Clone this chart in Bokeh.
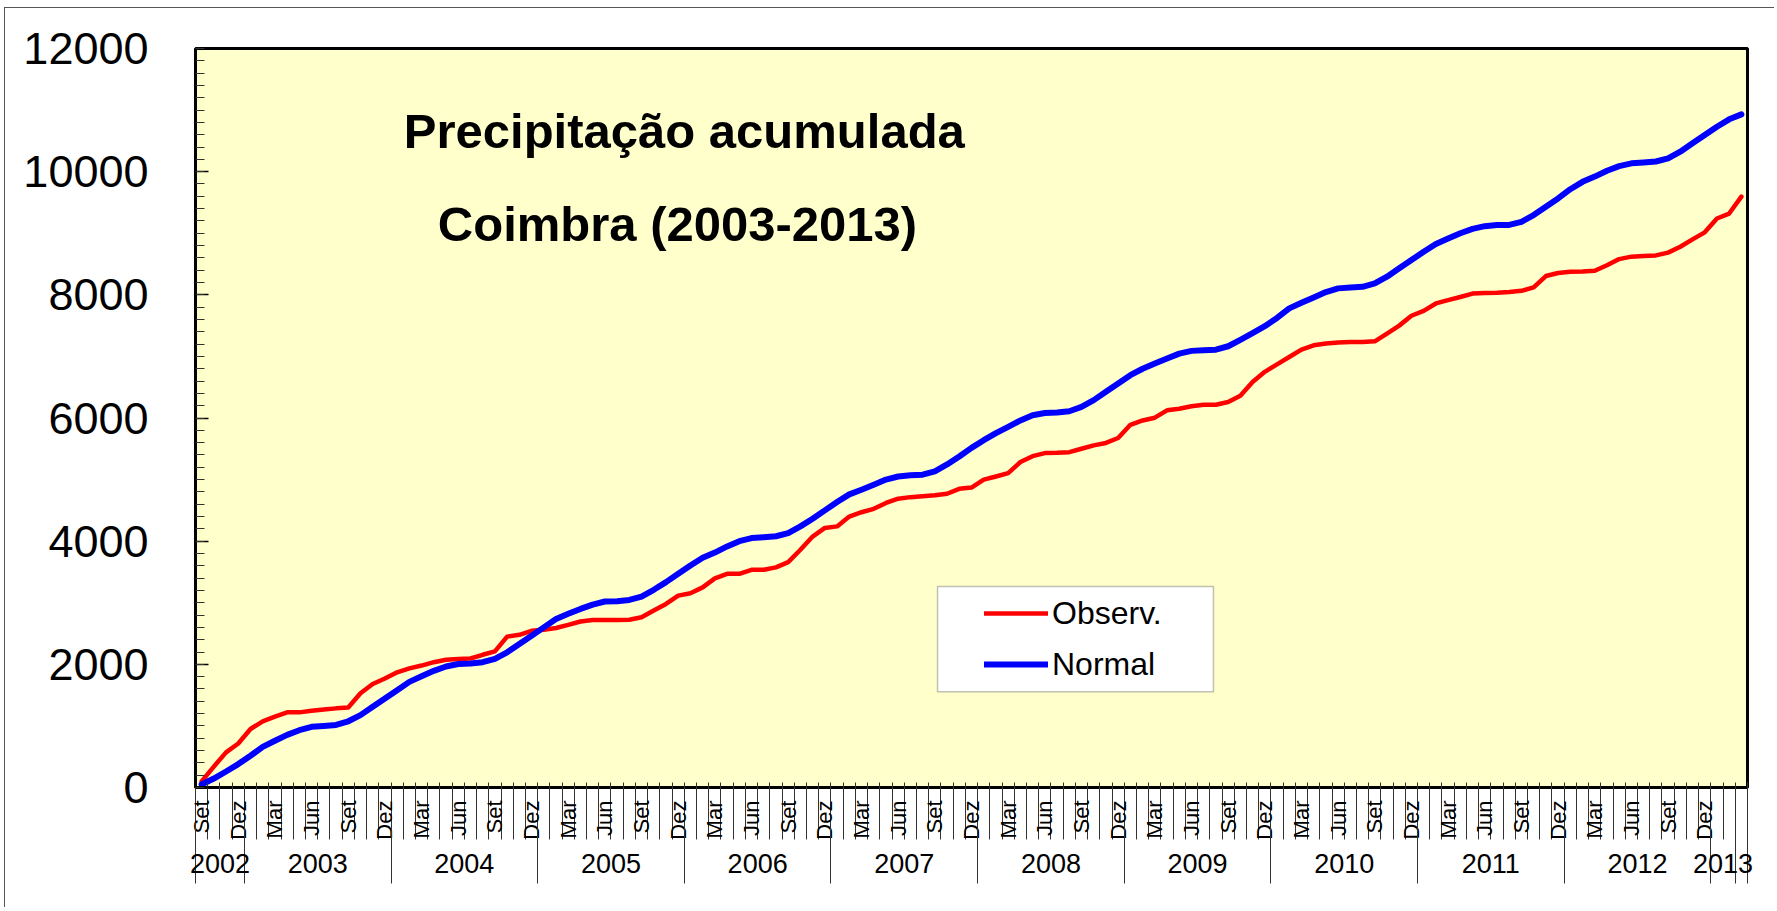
import numpy as np
from bokeh.plotting import figure
from bokeh.models import (FixedTicker, Label, Legend, LegendItem, BoxAnnotation,
                          Range1d, SingleIntervalTicker, LinearAxis)
from bokeh.embed import file_html
from bokeh.resources import INLINE

# ---------------- data ----------------
MONTH_NAMES = ["Jan", "Fev", "Mar", "Abr", "Mai", "Jun", "Jul", "Ago", "Set", "Out", "Nov", "Dez"]
START_YEAR, START_MONTH = 2002, 9          # first category: Set 2002
N_MONTHS = 127                             # Set 2002 .. Mar 2013

observed = [100, 340, 570, 715, 950, 1075, 1150, 1220, 1220, 1245, 1265, 1285, 1300, 1530, 1680, 1770,
            1870, 1935, 1980, 2035, 2075, 2085, 2095, 2155, 2210, 2450, 2480, 2545, 2560, 2590, 2640, 2695,
            2720, 2720, 2720, 2725, 2765, 2875, 2980, 3115, 3155, 3250, 3395, 3470, 3470, 3535, 3535, 3575,
            3660, 3860, 4075, 4215, 4240, 4400, 4470, 4525, 4620, 4690, 4715, 4730, 4745, 4770, 4850, 4870,
            5000, 5050, 5105, 5285, 5380, 5430, 5435, 5445, 5500, 5555, 5595, 5675, 5890, 5960, 6005, 6125,
            6150, 6190, 6215, 6215, 6260, 6360, 6585, 6750, 6870, 6990, 7110, 7180, 7210, 7225, 7235, 7235,
            7245, 7370, 7500, 7660, 7740, 7860, 7915, 7965, 8020, 8030, 8035, 8045, 8065, 8120, 8305, 8355,
            8375, 8380, 8390, 8480, 8580, 8620, 8630, 8640, 8685, 8780, 8900, 9015, 9240, 9320, 9595]

normal = [50, 145, 260, 380, 515, 660, 760, 855, 930, 985, 1000, 1015, 1075, 1175, 1310, 1445,
          1580, 1715, 1805, 1895, 1965, 2005, 2015, 2035, 2090, 2195, 2330, 2465, 2600, 2735, 2820, 2900,
          2970, 3020, 3025, 3045, 3100, 3210, 3335, 3470, 3605, 3730, 3815, 3915, 4000, 4050, 4065, 4080,
          4130, 4240, 4365, 4500, 4635, 4760, 4835, 4915, 5000, 5050, 5070, 5080, 5135, 5245, 5375, 5515,
          5640, 5755, 5855, 5960, 6045, 6080, 6090, 6110, 6180, 6290, 6425, 6560, 6695, 6800, 6885, 6965,
          7045, 7090, 7100, 7110, 7165, 7270, 7380, 7490, 7625, 7780, 7870, 7955, 8045, 8105, 8120, 8130,
          8185, 8295, 8430, 8565, 8700, 8825, 8915, 9000, 9070, 9115, 9135, 9135, 9185, 9295, 9430, 9565,
          9715, 9835, 9920, 10015, 10090, 10135, 10150, 10165, 10215, 10325, 10460, 10595, 10730, 10850, 10930]

y_ticks_interval = 2000
y_max = 12000
axis_month_labels = ["Set", "Dez", "Mar", "Jun"]      # labelled every 3 months
last_labelled_month = 123                              # Dez 2012
year_labels = ["2002", "2003", "2004", "2005", "2006", "2007", "2008", "2009", "2010", "2011", "2012", "2013"]
year_group_months = [4, 12, 12, 12, 12, 12, 12, 12, 12, 12, 12, 2]

series_names = ["Observ.", "Normal"]
title_lines = ["Precipitação acumulada", "Coimbra  (2003-2013)"]

# ---------------- derived ----------------
cat_x = [i + 0.5 for i in range(N_MONTHS)]          # category centres
month_of = [MONTH_NAMES[(START_MONTH - 1 + i) % 12] for i in range(N_MONTHS)]

year_bounds = [0]
for g in year_group_months:
    year_bounds.append(year_bounds[-1] + g)
year_centers = [(a + b) / 2 for a, b in zip(year_bounds[:-1], year_bounds[1:])]
year_sep = year_bounds + [N_MONTHS]

lab_idx = [i for i in range(0, last_labelled_month + 1) if month_of[i] in axis_month_labels]
month_tick_pos = [cat_x[i] for i in lab_idx]

FONT = "Liberation Sans"
MONTH_TICK_OUT = 52
YEAR_TICK_OUT = 41

p = figure(width=1770, height=900,
           x_range=Range1d(0, N_MONTHS), y_range=Range1d(0, y_max),
           output_backend="svg", toolbar_location=None,
           min_border_left=191, min_border_right=27, min_border_top=41, min_border_bottom=120)
p.background_fill_color = "#FFFFCC"
p.border_fill_color = None
p.outline_line_color = "black"
p.outline_line_width = 3
p.grid.visible = False
p.styles = {"margin-left": "4px", "margin-top": "7px",
            "box-shadow": "inset 1px 1px 0 0 #555555"}

# y axis
ya = p.yaxis[0]
ya.ticker = SingleIntervalTicker(interval=y_ticks_interval, num_minor_ticks=10)
ya.axis_line_color = "black"
ya.axis_line_width = 3
ya.major_tick_in = 13
ya.major_tick_out = 0
ya.minor_tick_in = 9
ya.minor_tick_out = 0
ya.major_tick_line_color = "black"
ya.major_tick_line_width = 1.5
ya.minor_tick_line_color = "#333333"
ya.minor_tick_line_width = 1
ya.major_label_text_font = FONT
ya.major_label_text_font_size = "45px"
ya.major_label_text_color = "black"
ya.major_label_standoff = 47

# x axis: month labels, month-boundary tick lines
xa = p.xaxis[0]
xa.ticker = FixedTicker(ticks=month_tick_pos, minor_ticks=list(range(N_MONTHS + 1)))
xa.axis_line_color = "black"
xa.axis_line_width = 3
xa.major_tick_in = 0
xa.major_tick_out = 0
xa.minor_tick_in = 5
xa.minor_tick_out = MONTH_TICK_OUT
xa.minor_tick_line_color = "#333333"
xa.minor_tick_line_width = 1
xa.major_label_overrides = {x: month_of[i] for x, i in zip(month_tick_pos, lab_idx)}
xa.major_label_orientation = np.pi / 2
xa.major_label_standoff = 13 - MONTH_TICK_OUT
xa.major_label_text_font = FONT
xa.major_label_text_font_size = "22px"
xa.major_label_text_color = "black"

# second x axis: year labels, year-boundary long tick lines
yr_axis = LinearAxis(ticker=FixedTicker(ticks=year_centers, minor_ticks=year_sep))
yr_axis.axis_line_color = None
yr_axis.major_tick_in = 0
yr_axis.major_tick_out = 0
yr_axis.minor_tick_in = 20
yr_axis.minor_tick_out = YEAR_TICK_OUT
yr_axis.minor_tick_line_color = "#333333"
yr_axis.minor_tick_line_width = 1
yr_axis.major_label_overrides = {c: t for c, t in zip(year_centers, year_labels)}
yr_axis.major_label_standoff = 11 - YEAR_TICK_OUT
yr_axis.major_label_text_font = FONT
yr_axis.major_label_text_font_size = "27px"
yr_axis.major_label_text_color = "black"
p.add_layout(yr_axis, "below")

# lines
r_obs = p.line(cat_x, observed, line_color="#FF0000", line_width=4.5,
               line_cap="round", line_join="round")
r_nor = p.line(cat_x, normal, line_color="#0000FF", line_width=6,
               line_cap="round", line_join="round")

# title inside plot
for txt, yy in zip(title_lines, [10664, 9153]):
    p.add_layout(Label(x=40.0, y=yy, text=txt, text_align="center", text_baseline="middle",
                       text_font=FONT, text_font_size="49px", text_font_style="bold",
                       text_color="black"))

# legend box + legend
p.add_layout(BoxAnnotation(left=60.72, right=83.3, bottom=1556, top=3263,
                           fill_color="white", fill_alpha=1.0,
                           line_color="#333333", line_width=1.5))
legend = Legend(items=[LegendItem(label=series_names[0], renderers=[r_obs]),
                       LegendItem(label=series_names[1], renderers=[r_nor])],
                location=(789, 103), padding=0, margin=0, spacing=11,
                glyph_width=64, glyph_height=40, label_height=40, label_standoff=4,
                label_text_font=FONT, label_text_font_size="32px", label_text_color="black",
                background_fill_alpha=0, border_line_alpha=0)
p.add_layout(legend)

open("out.html", "w").write(file_html(p, INLINE))
